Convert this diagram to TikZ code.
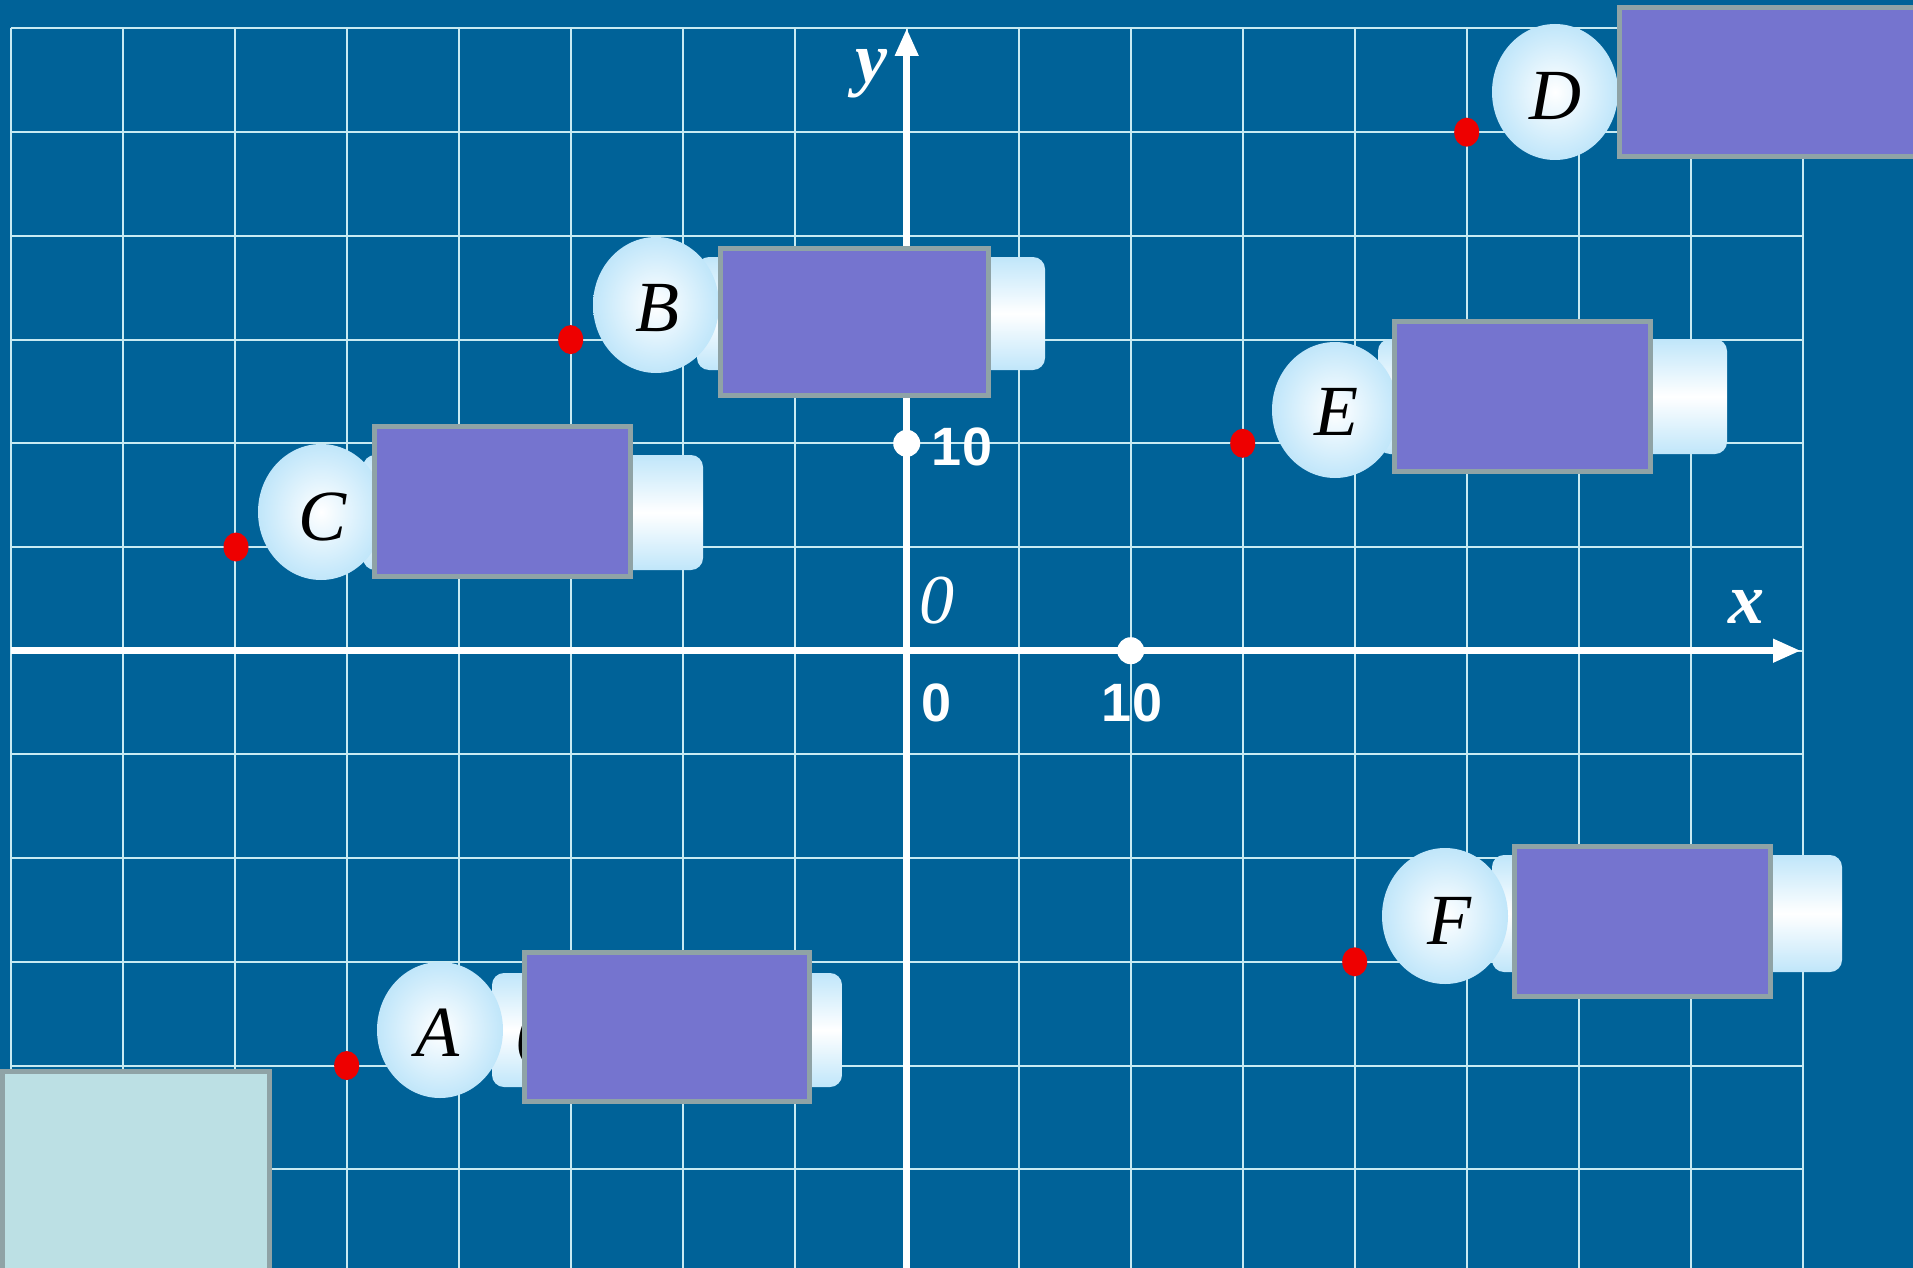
\documentclass[tikz,border=0pt]{standalone}
\usepackage{fontspec}
\setmainfont{Liberation Serif}
\newfontfamily\numfont{Liberation Sans}
\usetikzlibrary{arrows.meta,shapes.geometric}
\definecolor{bgc}{RGB}{0,98,152}
\definecolor{gridc}{RGB}{200,234,242}
\definecolor{boxfill}{RGB}{117,116,207}
\definecolor{boxedge}{RGB}{143,163,166}
\definecolor{bubblec}{RGB}{192,230,250}
\definecolor{platec}{RGB}{192,230,250}
\definecolor{dotred}{RGB}{238,0,0}
\definecolor{palec}{RGB}{188,224,228}
\begin{document}
\begin{tikzpicture}[x=0.5pt,y=-0.5pt,
  gridline/.style={gridc,line width=1pt},
  axisline/.style={white,line width=3.5pt,-{Triangle[length=14pt,width=11pt]}},
  bubble/.style={ellipse,minimum width=63pt,minimum height=68pt,inner sep=0pt,
    shading=radial,inner color=white,outer color=bubblec},
  letter/.style={inner sep=0pt,text=black,font=\fontsize{36}{40}\selectfont\itshape},
  axislabel/.style={inner sep=0pt,text=white,font=\fontsize{36}{40}\selectfont\bfseries\itshape},
  numlabel/.style={inner sep=0pt,text=white,font=\numfont\bfseries\fontsize{27}{29}\selectfont},
  plate/.style={top color=platec,bottom color=platec,middle color=white,rounded corners=6pt},
  pbox/.style={fill=boxfill,draw=boxedge,line width=2.5pt},
  rdot/.style={ellipse,fill=dotred,minimum width=12.5pt,minimum height=14.5pt,inner sep=0pt},
  wdot/.style={circle,fill=white,minimum size=13.5pt,inner sep=0pt}
]
\useasboundingbox (0,0) rectangle (1913,1268);
\clip (0,0) rectangle (1913,1268);
\fill[bgc] (0,0) rectangle (1913,1268);

% grid
\foreach \i in {-8,...,8}
  \draw[gridline] ({906.7+112*\i},28) -- ({906.7+112*\i},1268);
\foreach \j in {-6,...,5}
  \draw[gridline] (10.7,{650.7+103.7*\j}) -- (1802.7,{650.7+103.7*\j});

% axes
\coordinate (xs) at (10.7,650.7);
\coordinate (xe) at (1801,650.7);
\coordinate (ys) at (906.7,1268);
\coordinate (ye) at (906.7,28);
\draw[axisline] (xs) -- (xe);
\draw[axisline] (ys) -- (ye);

\node[wdot] (tx) at (1130.7,650.7) {};
\node[wdot] (ty) at (906.7,443.3) {};

\node[axislabel] (ylab) at (871,74) {y};
\node[axislabel] (xlab) at (1746,607) {x};
\node[inner sep=0pt,text=white,font=\fontsize{35}{40}\selectfont\itshape] (olab) at (937,601) {0};
\node[numlabel] (n0) at (937,703) {0};
\node[numlabel] (n10x) at (1132,703) {10};
\node[numlabel] (n10y) at (962,447) {10};

% bottom-left pale box
\filldraw[fill=palec,draw=boxedge,line width=2.5pt] (2.5,1071.5) rectangle (269.5,1300);

% A
\shade[plate] (492,973) rectangle (842,1087);
\node[bubble] (bA) at (440,1030) {};
\node[letter] (lA) at (437,1033) {A};
\node[letter,anchor=west] (parA) at (516,1036) {(};
\filldraw[pbox] (524.5,952.5) rectangle (809.5,1101.5);
\node[rdot] (dA) at (346.7,1065.5) {};

% B
\shade[plate] (697,257) rectangle (1045,370);
\node[bubble] (bB) at (656,305) {};
\node[letter] (lB) at (657,308) {B};
\filldraw[pbox] (720.5,248.5) rectangle (988.5,395.5);
\node[rdot] (dB) at (570.7,339.6) {};

% C
\shade[plate] (363,455) rectangle (703,570);
\node[bubble] (bC) at (321,512) {};
\node[letter] (lC) at (323,517) {C};
\filldraw[pbox] (374.5,426.5) rectangle (630.5,576.5);
\node[rdot] (dC) at (236,547) {};

% D
\node[bubble] (bD) at (1555,92) {};
\node[letter] (lD) at (1555,96) {D};
\filldraw[pbox] (1619.5,7.5) rectangle (2000,156.5);
\node[rdot] (dD) at (1466.7,132.2) {};

% E
\shade[plate] (1378,339) rectangle (1727,454);
\node[bubble] (bE) at (1335,410) {};
\node[letter] (lE) at (1336,412) {E};
\filldraw[pbox] (1394.5,321.5) rectangle (1650.5,471.5);
\node[rdot] (dE) at (1242.7,443.3) {};

% F
\shade[plate] (1492,855) rectangle (1842,972);
\node[bubble] (bF) at (1445,916) {};
\node[letter] (lF) at (1449,921) {F};
\filldraw[pbox] (1514.5,846.5) rectangle (1770.5,996.5);
\node[rdot] (dF) at (1354.7,961.8) {};
\end{tikzpicture}
\end{document}
